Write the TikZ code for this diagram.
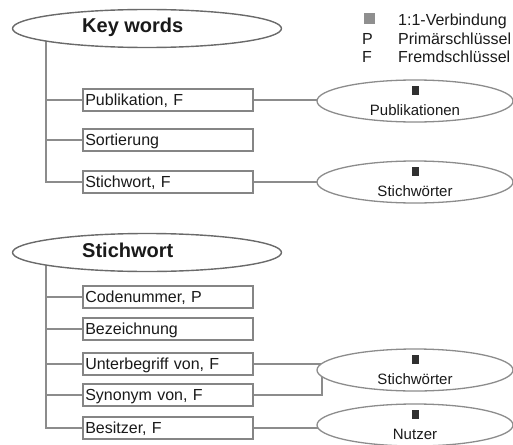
\documentclass[tikz,border=0pt]{standalone}
\usepackage{fontspec}
\setmainfont{Liberation Sans}
\usetikzlibrary{shapes.geometric,backgrounds,calc}
\definecolor{boxline}{HTML}{858585}
\definecolor{conline}{HTML}{8C8C8C}
\definecolor{ellline}{HTML}{6A6A6A}
\definecolor{legsq}{HTML}{8F8F8F}
\definecolor{txt}{HTML}{1A1A1A}
\definecolor{sq}{HTML}{303030}
\begin{document}
\begin{tikzpicture}[x=1pt,y=-1pt,
  fieldbox/.style={draw=boxline, line width=1.6pt, fill=white, anchor=west,
    minimum height=22pt, text width=165pt, inner xsep=2.5pt, inner ysep=0pt,
    text height=11.5pt, text depth=0pt, font=\fontsize{16}{18}\selectfont,
    text=txt, align=left},
  bigell/.style={ellipse, draw=ellline, line width=1.4pt, fill=white,
    minimum width=269pt, minimum height=38pt, inner sep=0pt},
  smallell/.style={ellipse, draw=conline, line width=1.3pt, fill=white,
    minimum width=196pt, minimum height=42pt, inner sep=0pt, align=center,
    font=\fontsize{15}{20}\selectfont, text=txt},
  title/.style={anchor=base west, font=\bfseries\fontsize{20}{24}\selectfont,
    inner sep=0pt, text=txt},
  conn/.style={draw=conline, line width=1.3pt},
  legtext/.style={anchor=base west, font=\fontsize{16}{18}\selectfont,
    inner sep=0pt, text=txt}]
\useasboundingbox (0,0) rectangle (513,444);

% ---- group 1 ----
\node[bigell] (kw) at (147,28.5) {};
\node[title] (kwt) at (82,32.5) {Key words};
\node[fieldbox] (pub) at (82,100) {Publikation, F};
\node[fieldbox] (sort) at (82,140) {Sortierung};
\node[fieldbox] (swf) at (82,182) {Stichwort, F};
\node[smallell] (pubE) at (415,101) {{\color{sq}\rule{7pt}{9pt}}\\Publikationen};
\node[smallell] (stwA) at (415,182) {{\color{sq}\rule{7pt}{9pt}}\\Stichwörter};

% ---- group 2 ----
\node[bigell] (sw) at (147,252.5) {};
\node[title] (swt) at (82,257) {Stichwort};
\node[fieldbox] (code) at (82,297) {Codenummer, P};
\node[fieldbox] (bez) at (82,329) {Bezeichnung};
\node[fieldbox] (unt) at (82,364) {Unterbegriff von, F};
\node[fieldbox] (syn) at (82,395) {Synonym von, F};
\node[fieldbox] (bes) at (82,428) {Besitzer, F};
\node[smallell] (stwB) at (415,370) {{\color{sq}\rule{7pt}{9pt}}\\Stichwörter};
\node[smallell] (nutz) at (415,425) {{\color{sq}\rule{7pt}{9pt}}\\Nutzer};

% ---- legend ----
\node[fill=legsq, minimum size=11pt, inner sep=0pt] (lsq) at (369,19) {};
\node[legtext] (lp) at (362,44.5) {P};
\node[legtext] (lf) at (362,63) {F};
\node[legtext] (l1) at (398,26) {1:1-Verbindung};
\node[legtext] (l2) at (398,44.5) {Primärschlüssel};
\node[legtext] (l3) at (398,63) {Fremdschlüssel};

\coordinate (v1) at (46,28.5);
\coordinate (v2) at (46,252.5);
\coordinate (brk) at (322,370);

\begin{scope}[on background layer]
  \draw[conn] (v1) |- (swf.west);
  \draw[conn] (v1 |- pub.west) -- (pub.west);
  \draw[conn] (v1 |- sort.west) -- (sort.west);
  \draw[conn] (pub.east) -- (pub.east -| pubE.center);
  \draw[conn] (swf.east) -- (swf.east -| stwA.center);
  \draw[conn] (v2) |- (bes.west);
  \draw[conn] (v2 |- code.west) -- (code.west);
  \draw[conn] (v2 |- bez.west) -- (bez.west);
  \draw[conn] (v2 |- unt.west) -- (unt.west);
  \draw[conn] (v2 |- syn.west) -- (syn.west);
  \draw[conn] (unt.east) -- (unt.east -| stwB.center);
  \draw[conn] (syn.east) -| (brk);
  \draw[conn] (bes.east) -- (bes.east -| nutz.center);
\end{scope}
\end{tikzpicture}
\end{document}
